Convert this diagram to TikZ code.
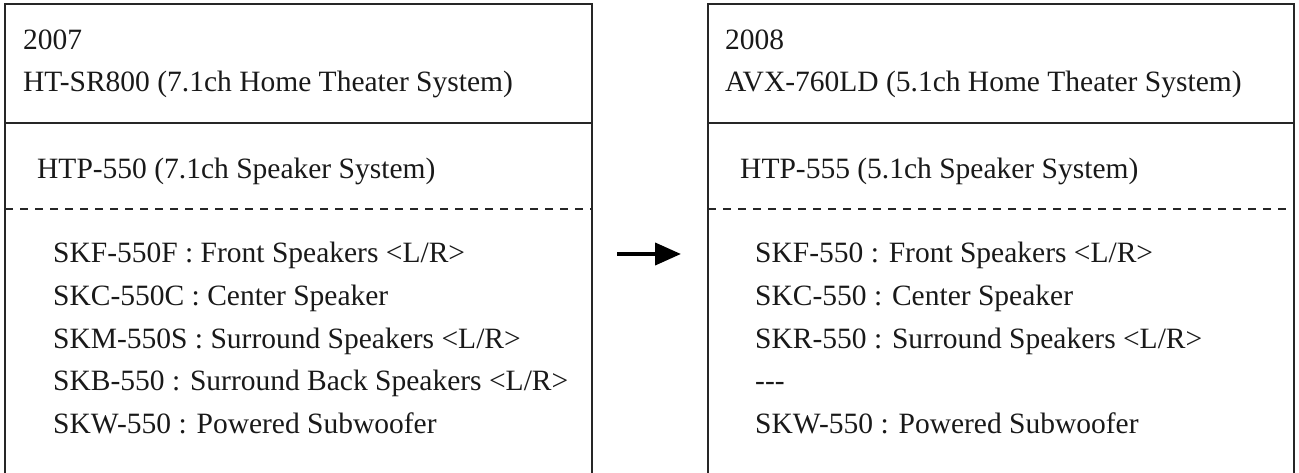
\documentclass[tikz,border=0pt]{standalone}
\usepackage{fontspec}
\setmainfont{Liberation Serif}
\usetikzlibrary{arrows.meta}
\begin{document}
\begin{tikzpicture}[x=1pt,y=-1pt,
  boxline/.style={line width=2pt,draw=black!85},
  sepline/.style={line width=1.4pt,draw=black!85},
  dashline/.style={line width=1.4pt,draw=black!85,dash pattern=on 8pt off 7pt},
  txt/.style={anchor=base west,inner sep=0pt,font=\fontsize{29.5}{35}\selectfont,text=black!90},
  arr/.style={line width=4pt,-{Triangle[length=26pt,width=22pt]}}]
\useasboundingbox (0,0) rectangle (1299,473);
% left box
\draw[boxline] (5,490) -- (5,4) -- (592,4) -- (592,490);
\draw[sepline] (5,123) -- (592,123);
\draw[dashline] (5,209) -- (592,209);
% right box
\draw[boxline] (708,490) -- (708,4) -- (1294,4) -- (1294,490);
\draw[sepline] (708,123) -- (1294,123);
\draw[dashline] (708,209) -- (1294,209);
% left texts
\node[txt] (ly) at (23,50) {2007};
\node[txt] (lt) at (23,92) {HT-SR800 (7.1ch Home Theater System)};
\node[txt] (ls) at (37,179) {HTP-550 (7.1ch Speaker System)};
\node[txt] (l1) at (53,263) {SKF-550F : Front Speakers <L/R>};
\node[txt] (l2) at (53,305.5) {SKC-550C : Center Speaker};
\node[txt] (l3) at (53,348) {SKM-550S : Surround Speakers <L/R>};
\node[txt] (l4) at (53,390.5) {SKB-550 : Surround Back Speakers <L/R>};
\node[txt] (l5) at (53,433) {SKW-550 : Powered Subwoofer};
% right texts
\node[txt] (ry) at (725,50) {2008};
\node[txt] (rt) at (725,92) {AVX-760LD (5.1ch Home Theater System)};
\node[txt] (rs) at (740,179) {HTP-555 (5.1ch Speaker System)};
\node[txt] (r1) at (755,263) {SKF-550 : Front Speakers <L/R>};
\node[txt] (r2) at (755,305.5) {SKC-550 : Center Speaker};
\node[txt] (r3) at (755,348) {SKR-550 : Surround Speakers <L/R>};
\node[txt] (r4) at (755,390.5) {-{}-{}-};
\node[txt] (r5) at (755,433) {SKW-550 : Powered Subwoofer};
% arrow
\coordinate (a1) at (617,254);
\coordinate (a2) at (681,254);
\draw[arr] (a1) -- (a2);
\end{tikzpicture}
\end{document}
